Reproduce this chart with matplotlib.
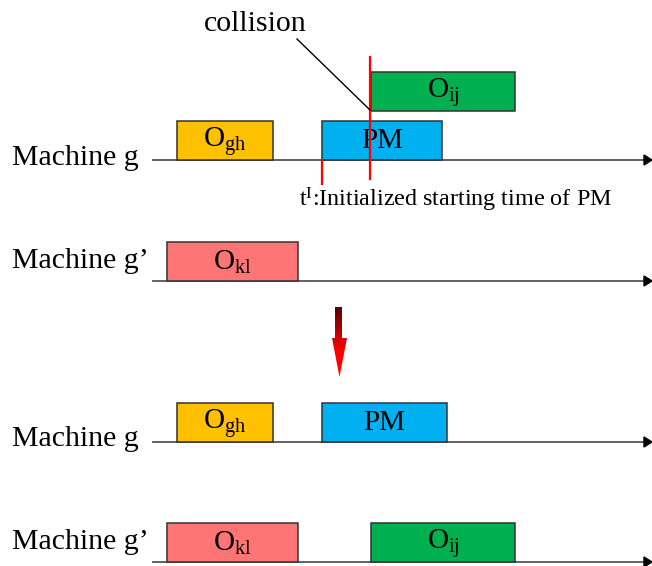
import numpy as np
import matplotlib
matplotlib.use("Agg")
import matplotlib.pyplot as plt
from matplotlib.patches import Rectangle, Polygon

plt.rcParams['font.family'] = ['Liberation Serif', 'DejaVu Serif']
plt.rcParams['mathtext.fontset'] = 'custom'
plt.rcParams['mathtext.rm'] = 'Liberation Serif'
plt.rcParams['mathtext.it'] = 'Liberation Serif:italic'

# machine rows (top schedule, then repaired schedule)
row_labels = ["Machine g", "Machine g\u2019", "Machine g", "Machine g\u2019"]

# operations: label, row, start, end, lift (raised bar = collision)
op_labels = ["O_{gh}", "PM", "O_{ij}", "O_{kl}", "O_{gh}", "PM", "O_{kl}", "O_{ij}"]
op_rows = [0, 0, 0, 1, 2, 2, 3, 3]
op_start = [177, 322, 371, 167, 177, 322, 167, 371]
op_end = [273, 442, 515, 298, 273, 447, 298, 515]
op_lift = [0, 0, 1, 0, 0, 0, 0, 0]
op_colors = ["#FFC000", "#00B0F0", "#00B050", "#FF7575",
             "#FFC000", "#00B0F0", "#FF7575", "#00B050"]

t_init = 322      # initialized starting time of PM
t_collision = 370

row_y = [160, 281, 442, 562]
bar_h = 39

fig = plt.figure(figsize=(6.52, 5.66), dpi=100)
ax = fig.add_axes([0, 0, 1, 1])
ax.set_xlim(0, 652)
ax.set_ylim(566, 0)
ax.axis('off')

for i, lab in enumerate(row_labels):
    y = row_y[i]
    ax.plot([153, 645], [y, y], color='#555555', lw=1.3, zorder=1)
    ax.add_patch(Polygon([[644, y - 5], [652, y], [644, y + 5]], closed=True,
                         color='black', zorder=2))
    base = y + 5 if i in (0,) else (y + 4 if i == 2 else y - 13)
    ax.text(12, base, lab, fontsize=21.5, ha='left', va='baseline')

for lab, r, s, e, lift, c in zip(op_labels, op_rows, op_start, op_end, op_lift, op_colors):
    bottom = row_y[r] - lift * 49
    ax.add_patch(Rectangle((s, bottom - bar_h), e - s, bar_h, facecolor=c,
                           edgecolor='#333333', lw=1.1, zorder=3))
    txt = r'$\mathrm{' + lab + '}$' if '_' in lab else lab
    ax.text((s + e) / 2, bottom - bar_h / 2 + 1, txt, fontsize=21,
            ha='center', va='center', zorder=4)

# red markers
ax.plot([t_init, t_init], [160, 184], color='red', lw=1.6, zorder=5)
ax.plot([t_collision, t_collision], [57, 179], color='red', lw=1.6, zorder=5)

# collision leader
ax.plot([297, t_collision], [39, 110], color='black', lw=1.0, zorder=5)
ax.text(255, 31, "collision", fontsize=21.5, ha='center', va='baseline')
ax.text(299, 207, r'$\mathrm{t^{I}}$:Initialized starting time of PM',
        fontsize=17.4, ha='left', va='baseline')

# gradient down arrow
arrow = Polygon([[335, 307], [342, 307], [342, 338], [347, 338], [339.5, 377],
                 [332, 338], [335, 338]], closed=True, facecolor='none',
                edgecolor='none')
ax.add_patch(arrow)
grad = np.linspace(0, 1, 100).reshape(-1, 1)
grad = np.clip(grad * 1.6, 0, 1)
cmap = matplotlib.colors.LinearSegmentedColormap.from_list('dr', ['#5A0000', '#FF0000'])
im = ax.imshow(grad, cmap=cmap, extent=[330, 350, 377, 307], aspect='auto', zorder=6)
im.set_clip_path(arrow)
ax.set_xlim(0, 652)
ax.set_ylim(566, 0)

fig.savefig("out.png", dpi=100)
